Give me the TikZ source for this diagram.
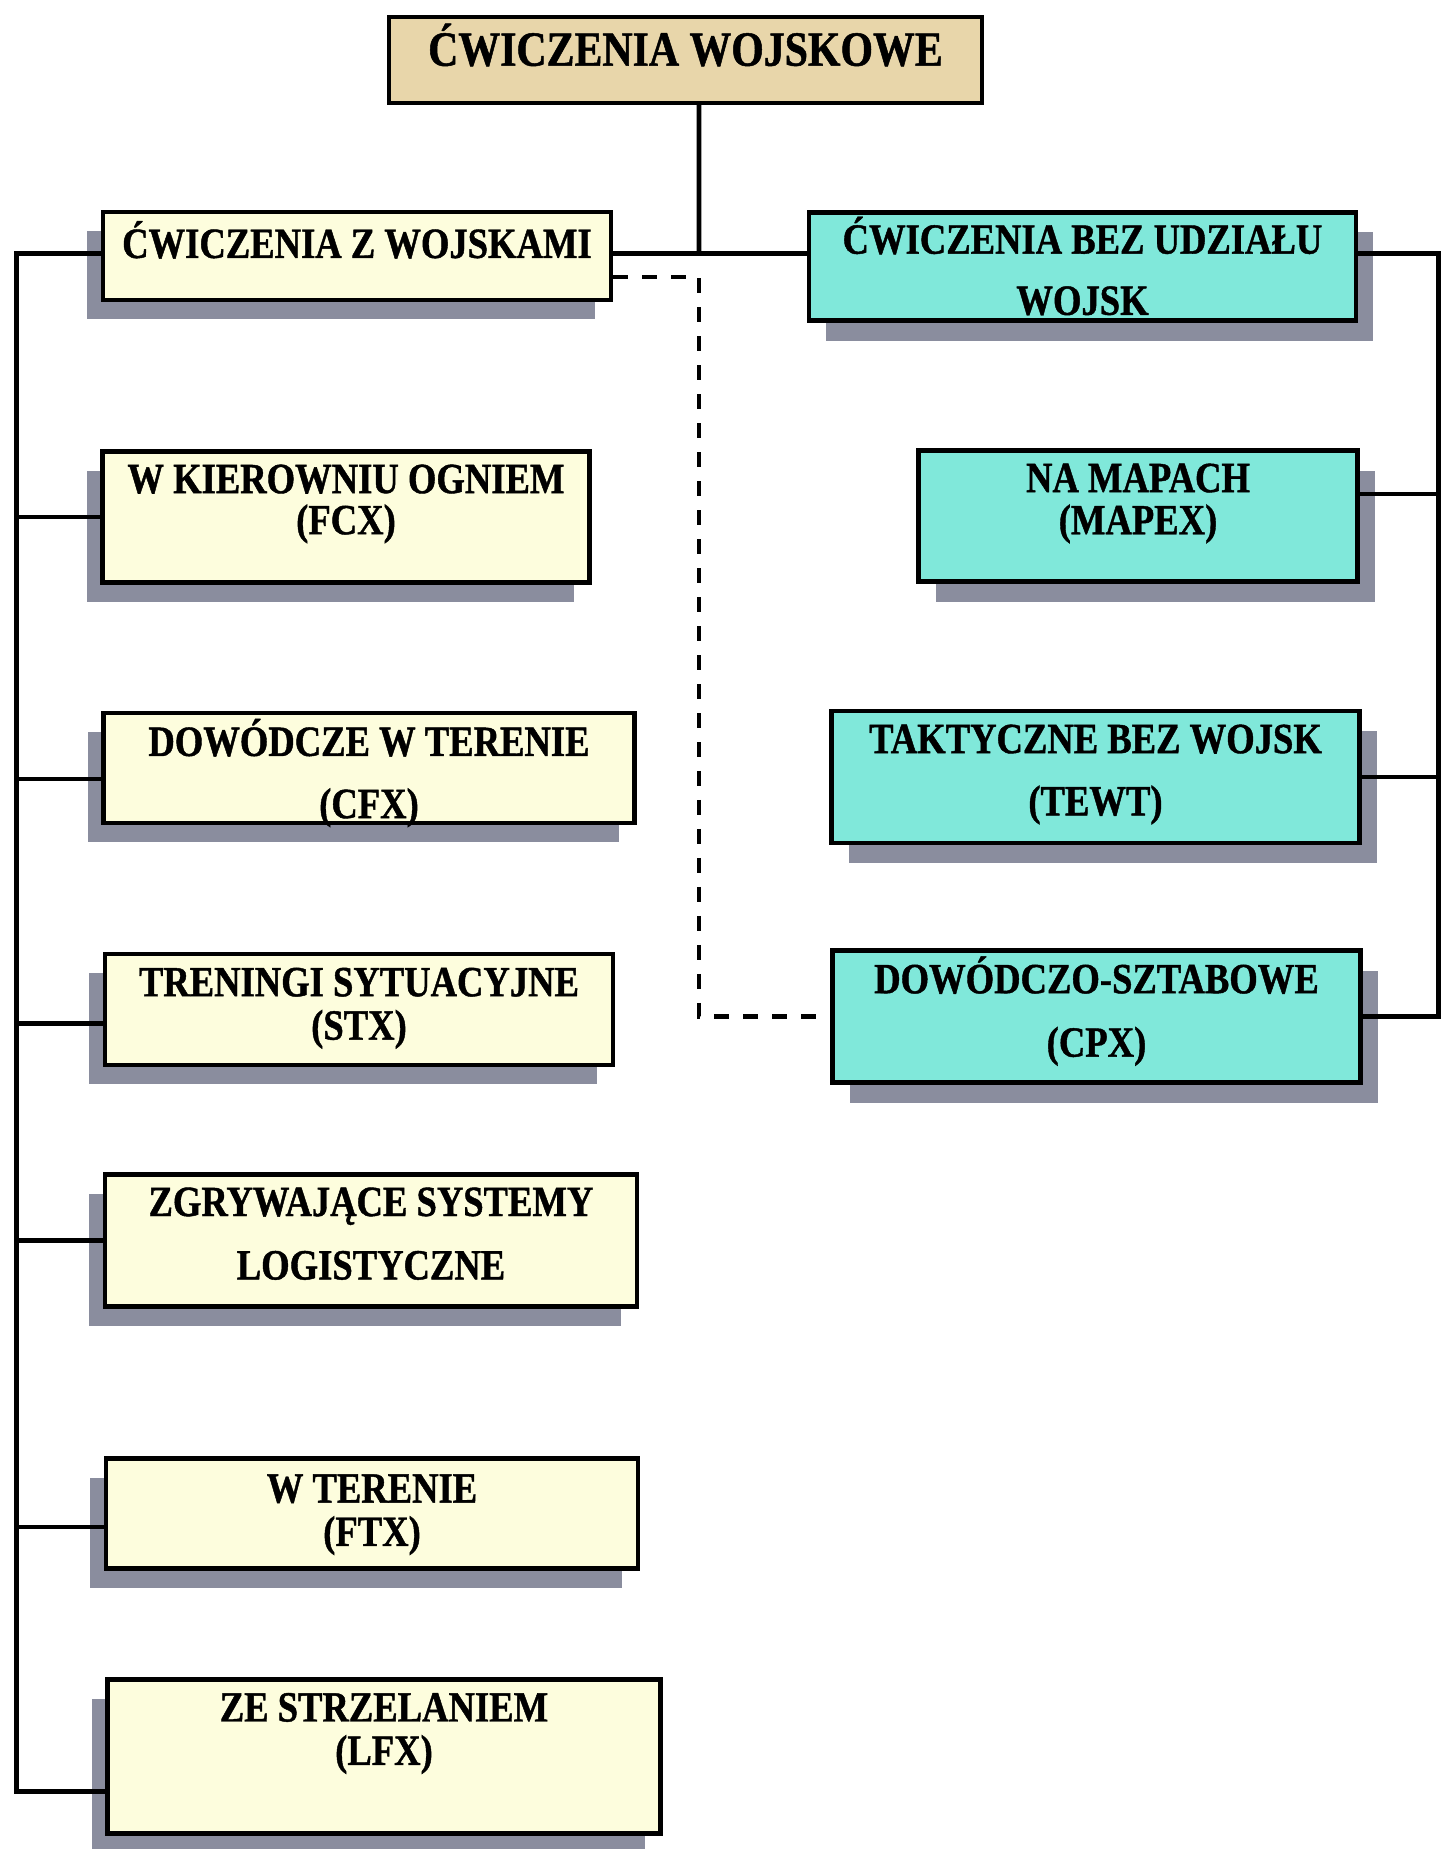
\documentclass[tikz,border=0pt]{standalone}
\usepackage{fontspec}
\setmainfont{Liberation Serif}[FakeStretch=0.85, BoldFeatures={FakeBold=1}]
\usetikzlibrary{calc,shadows}

\definecolor{tanfill}{RGB}{232,214,170}
\definecolor{paleyellow}{RGB}{253,253,221}
\definecolor{turquoise}{RGB}{128,232,218}
\definecolor{shadowgray}{RGB}{138,141,158}

\newcommand{\pix}{0.02cm}
% invisible struts that move the text down (\hi) or up (\lo) inside its box
\newcommand{\hi}[1]{\rule{0pt}{#1}}
\newcommand{\lo}[1]{\rule[-#1]{0pt}{#1}}

\tikzset{
  box/.style={draw=black, line width=2.5pt, inner sep=0pt, align=center,
    font=\bfseries\fontsize{24.5pt}{24pt}\selectfont},
  withbox/.style={box, fill=paleyellow,
    drop shadow={shadow xshift=-0.32cm, shadow yshift=-0.38cm, fill=shadowgray, opacity=1}},
  withoutbox/.style={box, fill=turquoise,
    drop shadow={shadow xshift=0.34cm, shadow yshift=-0.40cm, fill=shadowgray, opacity=1}},
  link/.style={line width=2.8pt},
  dlink/.style={line width=2.5pt, dash pattern=on 8.5pt off 8pt},
}

\begin{document}
\begin{tikzpicture}[x=\pix, y=-\pix]
		%%%%% FRAME %%%%%
		\useasboundingbox[fill=white] (0,0) rectangle (1441,1849);
		
		%%%%% HEAD %%%%%
		\node[box, fill=tanfill, minimum width=593*\pix, minimum height=86*\pix,
		  font=\bfseries\fontsize{28pt}{24pt}\selectfont] (head) at (685.5,60) {\hi{6.5pt}\smash{ĆWICZENIA WOJSKOWE}};
		
		%%%%% WITH TROOPS %%%%%
		\node[withbox, minimum width=508*\pix, minimum height=88*\pix] (with) at (357,256) {\hi{2.2pt}\smash{ĆWICZENIA Z WOJSKAMI}};
		\node[withbox, minimum width=487*\pix, minimum height=131*\pix] (fcx) at (346,517) {\smash{W KIEROWNIU OGNIEM}\\[-0.6pt]\smash{(FCX)}\lo{3.8pt}};
		\node[withbox, minimum width=531*\pix, minimum height=110*\pix] (cfx) at (369,768) {\hi{21.6pt}\smash{DOWÓDCZE W TERENIE}\\[11.4pt]\smash{(CFX)}};
		\node[withbox, minimum width=508*\pix, minimum height=111*\pix] (stx) at (359,1009.5) {\hi{9.6pt}\smash{TRENINGI SYTUACYJNE}\\[0.7pt]\smash{(STX)}};
		\node[withbox, minimum width=532*\pix, minimum height=132*\pix] (logx) at (371,1240.5) {\hi{8.2pt}\smash{ZGRYWAJĄCE SYSTEMY}\\[12.1pt]\smash{LOGISTYCZNE}};
		\node[withbox, minimum width=532*\pix, minimum height=110*\pix] (ftx) at (372,1513.5) {\hi{12.2pt}\smash{W TERENIE}\\[0.7pt]\smash{(FTX)}};
		\node[withbox, minimum width=553*\pix, minimum height=154*\pix] (lfx) at (384,1756.5) {\smash{ZE STRZELANIEM}\\[0.7pt]\smash{(LFX)}\lo{15.2pt}};
		
		%%%%% WITHOUT TROOPS %%%%%
		\node[withoutbox, minimum width=547*\pix, minimum height=108*\pix] (without) at (1082.5,266.5) {\hi{20.2pt}\smash{ĆWICZENIA BEZ UDZIAŁU}\\[10.8pt]\smash{WOJSK}};
		\node[withoutbox, minimum width=439*\pix, minimum height=131*\pix] (mapex) at (1138,516) {\smash{NA MAPACH}\\\smash{(MAPEX)}\lo{3.2pt}};
		\node[withoutbox, minimum width=528*\pix, minimum height=132*\pix] (tewt) at (1095.5,777) {\hi{8.2pt}\smash{TAKTYCZNE BEZ WOJSK}\\[11.4pt]\smash{(TEWT)}};
		\node[withoutbox, minimum width=528*\pix, minimum height=132*\pix] (cpx) at (1096.5,1016.5) {\hi{9.6pt}\smash{DOWÓDCZO-SZTABOWE}\\[12.1pt]\smash{(CPX)}};
		
		%%%%% LINES %%%%%
		\coordinate (trunk) at (699,253.5);
		\coordinate (lsp) at (16.5,0);
		\coordinate (rsp) at (1438.5,0);
		\coordinate (dsp) at (699,0);
		\coordinate (c3) at ($(cfx.west)+(0,11)$);
		\coordinate (c4) at ($(stx.west)+(0,14)$);
		\coordinate (c6) at ($(ftx.west)+(0,13.5)$);
		\coordinate (c7) at ($(lfx.west)+(0,35)$);
		\coordinate (m2) at ($(mapex.east)+(0,-22)$);
		\coordinate (w1) at ($(with.east)+(0,21)$);
		
		\draw[link] ($(head.south)+(13.5,0)$) -- (trunk);
		\draw[link] (trunk -| with.east) -- (trunk -| without.west);
		
		\draw[link] (with.west |- trunk) -| (lsp |- c7) -- (c7);
		\draw[link] (fcx.west) -- (fcx.west -| lsp);
		\draw[link] (c3) -- (c3 -| lsp);
		\draw[link] (c4) -- (c4 -| lsp);
		\draw[link] (logx.west) -- (logx.west -| lsp);
		\draw[link] (c6) -- (c6 -| lsp);
		
		\draw[link] (without.east |- trunk) -| (rsp |- cpx.east) -- (cpx.east);
		\draw[link] (m2) -- (m2 -| rsp);
		\draw[link] (tewt.east) -- (tewt.east -| rsp);
		
		\draw[dlink] (w1) -| (dsp |- cpx.west) -- (cpx.west);
		
	\end{tikzpicture}
\end{document}
